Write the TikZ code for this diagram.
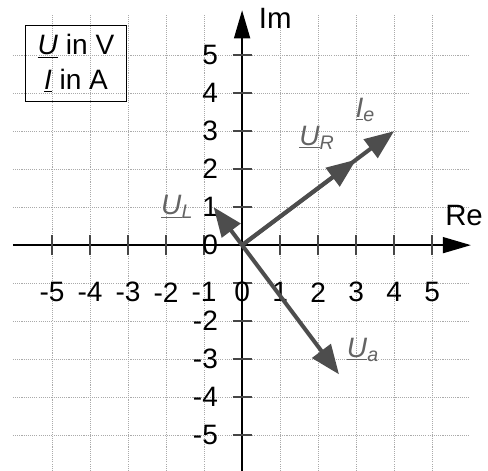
\documentclass[tikz,border=0pt]{standalone}
\usepackage{fontspec}
\setmainfont{Liberation Sans}
\usetikzlibrary{arrows.meta}
\definecolor{vecGray}{RGB}{77,77,77}
\definecolor{labelGray}{RGB}{100,100,100}
\definecolor{gridGray}{RGB}{170,170,170}
\definecolor{tickGray}{RGB}{70,70,70}
\newcommand{\phasor}[2]{\underline{\textit{#1}}\textsubscript{\textit{#2}}}

\begin{document}
\begin{tikzpicture}[font=\fontsize{21}{26}\selectfont,
  gridline/.style={draw=gridGray,line width=0.6pt,dash pattern=on 0.8pt off 0.8pt},
  axis/.style={line width=1.1pt,-{Triangle[length=21pt,width=12pt]}},
  tickmark/.style={draw=tickGray,line width=1.4pt},
  ticklabel/.style={inner sep=0pt},
  axislabel/.style={font=\fontsize{22}{26}\selectfont},
  vec/.style={draw=vecGray,line width=3pt,-{Triangle[length=22pt,width=17pt,fill=vecGray]}},
  veclabel/.style={text=labelGray,inner sep=0pt}]
\useasboundingbox (-6.37,-5.92) rectangle (6.47,6.45);
\foreach \k in {-5,...,5} {
  \draw[gridline] (\k,-6) -- (\k,6.05);
  \draw[gridline] (-6.03,\k) -- (6,\k);
}
\coordinate (O) at (0,0);
\coordinate (xmin) at (-6.03,0);
\coordinate (xmax) at (6.02,0);
\coordinate (ymin) at (0,-6);
\coordinate (ymax) at (0,6.18);
\draw[axis] (xmin) -- (xmax);
\draw[axis] (ymin) -- (ymax);
\foreach \k in {-5,...,-1,1,2,...,5} {
  \draw[tickmark] (\k,-0.26) -- (\k,0.26);
  \draw[tickmark] (-0.25,\k) -- (0.25,\k);
}
\foreach \k in {-5,...,5}
  \node[ticklabel] (xlab\k) at (\k,-1.24) {\k};
\foreach \k in {5,4,3,2,1,0,-2,-3,-4,-5}
  \node[ticklabel,anchor=east] (ylab\k) at (-0.63,\k) {\k};
\node[axislabel] (im) at (0.87,5.97) {Im};
\node[axislabel] (re) at (5.84,0.79) {Re};
\node[draw,line width=0.8pt,minimum width=2.68cm,minimum height=2.02cm,align=center,inner sep=0pt] (legend) at (-4.37,4.78)
  {\underline{\textit{U}} in V\\\underline{\textit{I}} in A};
\coordinate (UL) at (-0.75,1);
\coordinate (UR) at (3,2.25);
\coordinate (Ie) at (4,3);
\coordinate (Ua) at (2.55,-3.4);
\draw[vec] (O) -- (UL);
\draw[vec] (O) -- (Ua);
\draw[vec] (O) -- (UR);
\draw[vec] (O) -- (Ie);
\node[veclabel] (labUL) at (-1.71,1.0) {\phasor{U}{L}};
\node[veclabel] (labUR) at (1.97,2.82) {\phasor{U}{R}};
\node[veclabel] (labIe) at (3.24,3.55) {\phasor{I}{e}};
\node[veclabel] (labUa) at (3.18,-2.76) {\phasor{U}{a}};
\end{tikzpicture}
\end{document}
